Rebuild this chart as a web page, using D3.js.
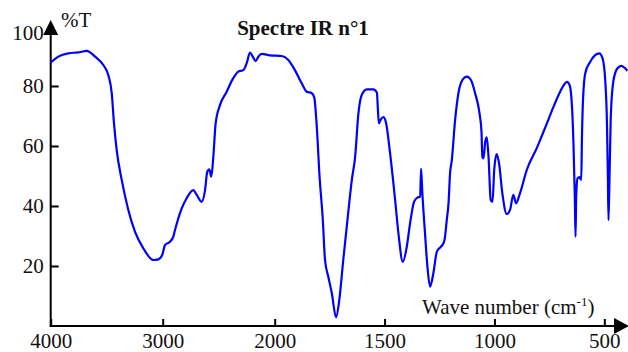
<!DOCTYPE html>
<html>
<head>
<meta charset="utf-8">
<script src="https://cdn.jsdelivr.net/npm/d3@7"></script>
<style>
  body { margin: 0; background: #fff; }
  svg { display: block; }
</style>
</head>
<body>
<div id="chart"></div>
<script>
const wavenumbers = [
    4000, 3932, 3843, 3754, 3679, 3604, 3530, 3486, 3455, 3435, 3411, 3366, 3307, 3247, 3173,
    3084, 3039, 3004, 2979, 2935, 2905, 2890, 2830, 2786, 2727, 2696, 2652, 2622, 2602, 2584,
    2566, 2548, 2527, 2488, 2429, 2370, 2325, 2280, 2250, 2221, 2196, 2170, 2146, 2116, 2042,
    1968, 1938, 1908, 1877, 1854, 1831, 1820, 1809, 1796, 1781, 1771, 1756, 1740, 1721, 1706,
    1688, 1669, 1649, 1634, 1619, 1604, 1581, 1551, 1535, 1531, 1526, 1517, 1505, 1493, 1475,
    1452, 1437, 1417, 1399, 1384, 1366, 1351, 1338, 1334, 1328, 1316, 1305, 1293, 1278, 1262,
    1244, 1232, 1226, 1217, 1209, 1202, 1194, 1179, 1164, 1144, 1126, 1107, 1088, 1068, 1059,
    1055, 1050, 1042, 1035, 1027, 1017, 1009, 1001, 990, 979, 964, 944, 929, 914, 902,
    884, 853, 808, 792, 761, 731, 701, 670, 658, 647, 640, 634, 631, 628, 622,
    614, 605, 602, 597, 587, 564, 542, 523, 508, 496, 488, 484, 481, 476, 470,
    458, 440, 423, 405, 395
];

// transmittance (%T) correspondante
const transmittance = [
    87.8, 89.8, 90.9, 91.2, 91.7, 89.8, 87.0, 83.7, 77.6, 67.6, 58.7, 48.7, 38.7, 31.4, 25.9,
    22.0, 22.2, 23.7, 27.0, 28.1, 29.8, 32.0, 39.2, 42.6, 45.3, 43.7, 41.4, 45.3, 51.4, 52.2,
    49.8, 56.4, 67.6, 73.7, 78.1, 82.6, 84.8, 85.3, 87.6, 91.1, 89.8, 88.3, 89.8, 90.7, 90.2,
    90.0, 88.7, 85.3, 80.9, 78.1, 77.6, 76.2, 67.0, 50.0, 35.3, 22.0, 16.4, 10.9, 2.9, 8.7,
    22.0, 35.3, 48.7, 56.4, 70.9, 77.0, 78.9, 78.9, 77.8, 73.1, 67.6, 68.9, 69.6, 67.6, 57.6,
    42.0, 30.9, 21.4, 26.4, 34.2, 41.4, 42.8, 43.1, 52.5, 44.2, 30.9, 19.8, 13.1, 17.6, 24.8,
    26.4, 27.6, 29.2, 35.3, 40.9, 50.9, 55.3, 68.7, 77.6, 82.2, 83.1, 82.0, 77.6, 70.9, 64.8,
    56.4, 55.9, 61.4, 62.9, 56.4, 42.0, 41.4, 52.0, 57.3, 54.2, 44.2, 37.3, 38.7, 43.7, 40.9,
    44.2, 52.0, 59.2, 62.0, 67.6, 73.1, 78.1, 81.4, 80.3, 73.1, 59.8, 42.0, 29.8, 43.1, 49.2,
    49.6, 48.7, 62.0, 75.3, 84.2, 88.1, 90.3, 90.9, 89.2, 82.0, 67.6, 50.9, 35.3, 50.9, 70.9,
    82.0, 85.9, 86.7, 85.9, 85.1
];

const xTicks = [4000, 3000, 2000, 1500, 1000, 500];
const yTicks = [20, 40, 60, 80, 100];

const width = 628;
const height = 352;
const fontFamily = '"Liberation Serif", "Times New Roman", serif';

const svg = d3.select('#chart').append('svg')
    .attr('width', width)
    .attr('height', height);

// échelle coupée à 2000 cm-1 (la partie haute est deux fois plus serrée)
const x = d3.scaleLinear()
    .domain([4000, 2000, 400])
    .range([50.7, 274.7, 626.3]);

const y = d3.scaleLinear()
    .domain([0, 100])
    .range([326, 26]);

// axe des x
const xAxis = svg.append('g')
    .attr('transform', `translate(0,${y(0)})`)
    .call(d3.axisBottom(x)
        .tickValues(xTicks)
        .tickFormat(d3.format('d'))
        .tickSizeInner(-7)
        .tickSizeOuter(0)
        .tickPadding(7));
xAxis.select('.domain').remove();
xAxis.selectAll('line').attr('stroke', '#000').attr('stroke-width', 2);
xAxis.selectAll('text')
    .attr('fill', '#111')
    .style('font-family', fontFamily)
    .style('font-size', '21px');

// axe des y
const yAxis = svg.append('g')
    .attr('transform', `translate(${x(4000)},0)`)
    .call(d3.axisLeft(y)
        .tickValues(yTicks)
        .tickSizeInner(-8)
        .tickSizeOuter(0)
        .tickPadding(7));
yAxis.select('.domain').remove();
yAxis.selectAll('line').attr('stroke', '#000').attr('stroke-width', 2);
yAxis.selectAll('text')
    .attr('fill', '#111')
    .style('font-family', fontFamily)
    .style('font-size', '21px');
// pas de trait pour 100 (c'est la flèche), label un peu plus bas
yAxis.selectAll('.tick').filter(d => d === 100).select('line').remove();
yAxis.selectAll('.tick').filter(d => d === 100).select('text').attr('dy', '0.62em');

// traits des axes + flèches
svg.append('line')
    .attr('x1', x(4000)).attr('y1', y(0) + 1)
    .attr('x2', x(4000)).attr('y2', 34)
    .attr('stroke', '#000').attr('stroke-width', 2);
svg.append('line')
    .attr('x1', x(4000) - 1).attr('y1', y(0))
    .attr('x2', 615).attr('y2', y(0))
    .attr('stroke', '#000').attr('stroke-width', 2);
svg.append('path')
    .attr('d', `M${x(4000)},20 L${x(4000) - 7.5},35 L${x(4000) + 7.5},35 Z`)
    .attr('fill', '#000');
svg.append('path')
    .attr('d', `M629,${y(0)} L614,${y(0) - 8} L614,${y(0) + 8} Z`)
    .attr('fill', '#000');

// spectre
const points = wavenumbers.map((w, i) => [w, transmittance[i]]);
const line = d3.line()
    .x(d => x(d[0]))
    .y(d => y(d[1]))
    .curve(d3.curveMonotoneX);

svg.append('path')
    .datum(points)
    .attr('d', line)
    .attr('fill', 'none')
    .attr('stroke', '#0000ff')
    .attr('stroke-width', 2.2)
    .attr('stroke-linejoin', 'round');

// titre
svg.append('text')
    .attr('x', 303)
    .attr('y', 35)
    .attr('text-anchor', 'middle')
    .style('font-family', fontFamily)
    .style('font-size', '21px')
    .style('font-weight', 'bold')
    .attr('fill', '#111')
    .text('Spectre IR n°1');

// label axe y
svg.append('text')
    .attr('x', 61)
    .attr('y', 26.5)
    .style('font-family', fontFamily)
    .style('font-size', '21px')
    .attr('fill', '#111')
    .text('%T');

// label axe x
const xLabel = svg.append('text')
    .attr('x', 422)
    .attr('y', 314)
    .style('font-family', fontFamily)
    .style('font-size', '21px')
    .attr('fill', '#111');
xLabel.append('tspan').text('Wave number (cm');
xLabel.append('tspan')
    .attr('dy', -8)
    .style('font-size', '13px')
    .text('-1');
xLabel.append('tspan')
    .attr('dy', 8)
    .text(')');
</script>
</body>
</html>
